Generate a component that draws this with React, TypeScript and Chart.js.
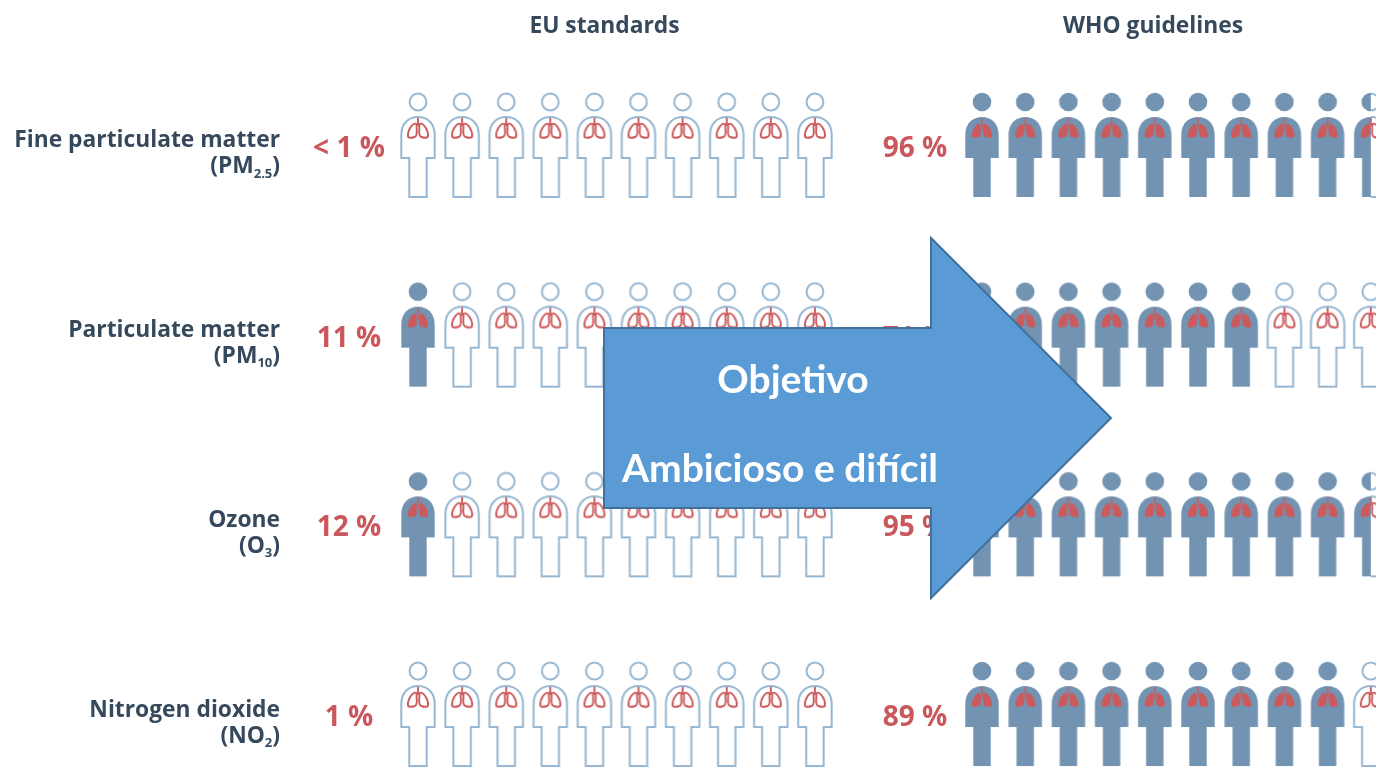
import React, { useEffect, useRef } from "react";
import { Chart, registerables } from "chart.js";

Chart.register(...registerables);

const pollutantNames = ["Fine particulate matter", "Particulate matter", "Ozone", "Nitrogen dioxide"];
const formulaHeads = ["(PM", "(PM", "(O", "(NO"];
const formulaSubs = ["2.5", "10", "3", "2"];
const euLabels = ["< 1 %", "11 %", "12 %", "1 %"];
const whoLabels = ["96 %", "71 %", "95 %", "89 %"];
const euFilled = [0, 1, 1, 0];
const whoFilled = [9.5, 7, 9.5, 9];
const panelTitles = ["EU standards", "WHO guidelines"];
const arrowLines = ["Objetivo", "Ambicioso e difícil"];
const peoplePerRow = [0, 1, 2, 3, 4, 5, 6, 7, 8, 9];

const OUTLINE = "#96b6d1";
const SOLID = "#7294b2";
const LUNG = "#cc5a5c";
const DARK = "#36495c";
const RED = "#c9575b";

function bodyPath(c: CanvasRenderingContext2D) {
  c.beginPath();
  c.moveTo(-16.7, 8);
  c.lineTo(-16.7, -15);
  c.bezierCurveTo(-16.7, -27, -9, -33, 0, -33);
  c.bezierCurveTo(9, -33, 16.7, -27, 16.7, -15);
  c.lineTo(16.7, 8);
  c.lineTo(8.7, 8);
  c.lineTo(8.7, 47);
  c.lineTo(-8.7, 47);
  c.lineTo(-8.7, 8);
  c.closePath();
}

function lungPath(c: CanvasRenderingContext2D) {
  c.beginPath();
  for (const s of [-1, 1]) {
    c.moveTo(s * 1.5, -26);
    c.bezierCurveTo(s * 5, -28, s * 10.5, -20, s * 10, -14);
    c.bezierCurveTo(s * 10, -11.5, s * 6, -12, s * 3.5, -13);
    c.bezierCurveTo(s * 1.5, -13.5, s * 1.2, -15, s * 1.2, -18);
    c.closePath();
  }
}

function drawFigure(c: CanvasRenderingContext2D, solid: boolean) {
  if (solid) {
    c.fillStyle = SOLID;
    c.beginPath();
    c.arc(0, -48, 9.3, 0, Math.PI * 2);
    c.fill();
    bodyPath(c);
    c.fill();
    c.fillStyle = LUNG;
    lungPath(c);
    c.fill();
    c.strokeStyle = LUNG;
    c.lineWidth = 1.4;
    c.beginPath();
    c.moveTo(0, -32);
    c.lineTo(0, -20);
    c.stroke();
  } else {
    c.strokeStyle = OUTLINE;
    c.lineWidth = 2;
    c.beginPath();
    c.arc(0, -48, 8.4, 0, Math.PI * 2);
    c.stroke();
    bodyPath(c);
    c.stroke();
    c.strokeStyle = LUNG;
    c.lineWidth = 1.9;
    lungPath(c);
    c.stroke();
    c.beginPath();
    c.moveTo(0, -32);
    c.lineTo(0, -24);
    c.stroke();
  }
}

const W = 44;
const H = 124;

function personImage(fraction: number) {
  const cv = document.createElement("canvas");
  cv.width = W;
  cv.height = H;
  const c = cv.getContext("2d")!;
  c.filter = "blur(0.55px)";
  c.translate(W / 2, H / 2);
  if (fraction < 1) drawFigure(c, false);
  if (fraction > 0) {
    c.save();
    c.beginPath();
    c.rect(-W / 2, -H / 2, fraction >= 1 ? W : W * 0.5 + (fraction - 0.5) * 34, H);
    c.clip();
    if (fraction < 1) {
      c.clearRect(-W / 2, -H / 2, W, H);
    }
    drawFigure(c, true);
    c.restore();
  }
  return cv;
}

function peopleDataset(filled: number[], xAxisID: string) {
  const data: { x: number; y: number }[] = [];
  const pointStyle: HTMLCanvasElement[] = [];
  filled.forEach((count, row) => {
    peoplePerRow.forEach((i) => {
      data.push({ x: i, y: row });
      pointStyle.push(personImage(Math.max(0, Math.min(1, count - i))));
    });
  });
  return { data, pointStyle, xAxisID, yAxisID: "y", showLine: false, pointRadius: 20, pointHoverRadius: 20 };
}

const textPlugin = {
  id: "pictogramText",
  afterDatasetsDraw(chart: any) {
    const c: CanvasRenderingContext2D = chart.ctx;
    const { y } = chart.scales;
    const sans = '"Open Sans"';
    c.save();
    c.textBaseline = "middle";

    c.font = `bold 22.8px ${sans}`;
    c.fillStyle = DARK;
    c.textAlign = "center";
    c.fillText(panelTitles[0], 604.5, 27);
    c.fillText(panelTitles[1], 1153, 27);

    pollutantNames.forEach((name, row) => {
      const cy = y.getPixelForValue(row);
      c.textAlign = "right";
      c.fillStyle = DARK;
      c.font = `bold 22.8px ${sans}`;
      c.fillText(name, 280, cy - 9);
      const closeW = c.measureText(")").width;
      c.fillText(")", 280, cy + 17);
      c.font = `bold 13px ${sans}`;
      const subW = c.measureText(formulaSubs[row]).width;
      c.fillText(formulaSubs[row], 280 - closeW, cy + 24);
      c.font = `bold 22.8px ${sans}`;
      c.fillText(formulaHeads[row], 280 - closeW - subW, cy + 17);

      c.textAlign = "center";
      c.fillStyle = RED;
      c.font = `bold 28px ${sans}`;
      c.fillText(euLabels[row], 349, cy - 1);
      c.fillText(whoLabels[row], 915, cy - 1);
    });

    c.beginPath();
    c.moveTo(604, 328);
    c.lineTo(931, 328);
    c.lineTo(931, 238);
    c.lineTo(1111, 418);
    c.lineTo(931, 598);
    c.lineTo(931, 508);
    c.lineTo(604, 508);
    c.closePath();
    c.fillStyle = "#5b9bd5";
    c.fill();
    c.strokeStyle = "#41719c";
    c.lineWidth = 2;
    c.stroke();

    c.fillStyle = "#ffffff";
    c.font = "bold 39px Lato";
    c.textAlign = "center";
    c.fillText(arrowLines[0], 793, 380);
    c.textAlign = "left";
    c.fillText(arrowLines[1], 622, 469);
    c.restore();
  },
};

export default function App() {
  const ref = useRef<HTMLCanvasElement>(null);
  useEffect(() => {
    document.body.style.margin = "0";
    const chart = new Chart(ref.current!, {
      type: "scatter",
      data: { datasets: [peopleDataset(euFilled, "xEU"), peopleDataset(whoFilled, "xWHO")] as any },
      options: {
        animation: false,
        responsive: false,
        layout: { padding: 0, autoPadding: false },
        plugins: { legend: { display: false }, tooltip: { enabled: false } },
        scales: {
          xEU: { type: "linear", display: false, min: -418 / 44.1, max: (1376 - 418) / 44.1 },
          xWHO: { type: "linear", display: false, min: -982 / 43.2, max: (1376 - 982) / 43.2 },
          y: { type: "linear", display: false, reverse: true, min: -150 / 189.67, max: (768 - 150) / 189.67 },
        },
      } as any,
      plugins: [textPlugin],
    });
    return () => chart.destroy();
  }, []);
  return <canvas ref={ref} width={1376} height={768} style={{ display: "block" }} />;
}
